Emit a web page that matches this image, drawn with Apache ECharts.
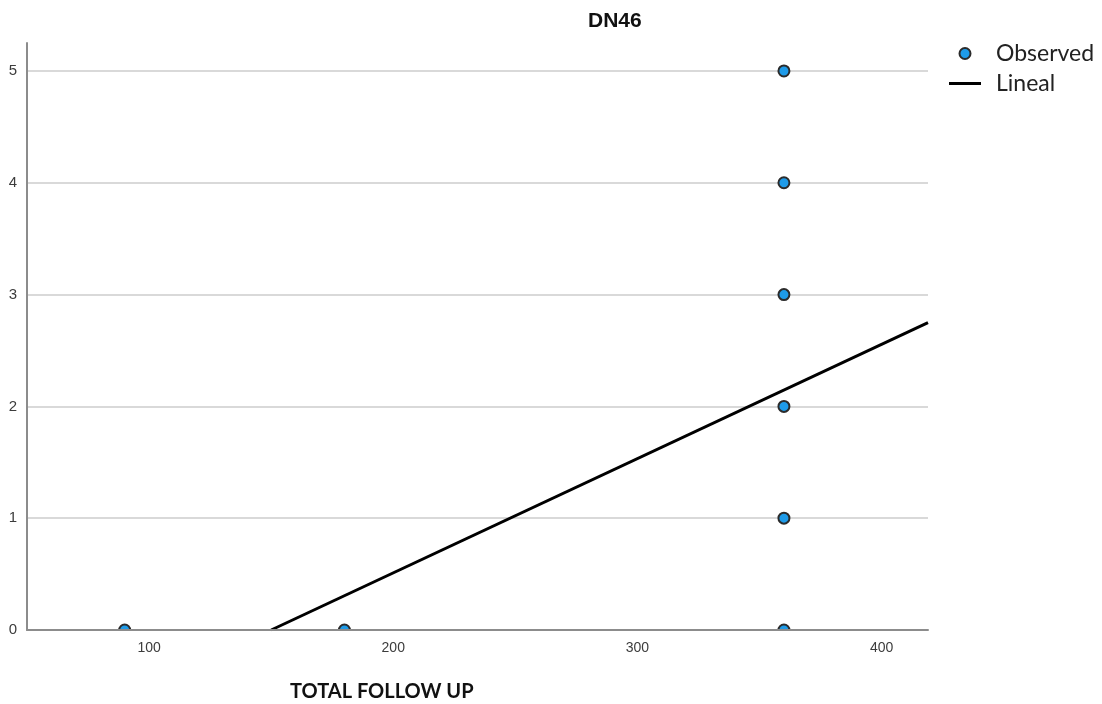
<!DOCTYPE html>
<html>
<head>
<meta charset="utf-8">
<script src="https://cdn.jsdelivr.net/npm/echarts@6/dist/echarts.min.js"></script>
<style>
  html, body { margin: 0; padding: 0; background: #fff; }
  #chart { width: 1102px; height: 704px; }
</style>
</head>
<body>
<div id="chart"></div>
<script>
// observed points: total follow up vs DN46
const followUp = [90, 180, 360, 360, 360, 360, 360, 360];
const dn46 = [0, 0, 0, 1, 2, 3, 4, 5];
// linear fit line, read at its two ends
const fitX = [150, 419];
const fitY = [0, 2.75];
const xTicks = [100, 200, 300, 400];

const observed = followUp.map((x, i) => [x, dn46[i]]);
const lineal = fitX.map((x, i) => [x, fitY[i]]);

const chart = echarts.init(document.getElementById('chart'));

const option = {
    animation: false,
    title: [
        {
            text: 'DN46',
            left: 583,
            top: 6,
            textStyle: { fontFamily: 'Liberation Sans', fontSize: 21, fontWeight: 'bold', color: '#111' }
        },
        {
            text: 'TOTAL FOLLOW UP',
            left: 285,
            top: 677,
            textStyle: { fontFamily: 'Lato', fontSize: 20, fontWeight: 'bold', color: '#111' }
        }
    ],
    legend: {
        orient: 'vertical',
        left: 944,
        top: 37,
        itemWidth: 32,
        itemHeight: 11,
        itemGap: 7,
        textStyle: { fontFamily: 'Lato', fontSize: 23, color: '#222', padding: [0, 0, 0, 10] },
        data: [
            { name: 'Observed' },
            { name: 'Lineal', icon: 'path://M0,0H32V3H0Z' }
        ]
    },
    grid: { left: 27, right: 174, top: 43, bottom: 74 },
    xAxis: {
        type: 'value',
        min: 50,
        max: 419,
        z: 4,
        axisLine: { lineStyle: { color: '#8c8c8c', width: 2 } },
        axisTick: { show: false },
        splitLine: { show: false },
        axisLabel: {
            customValues: xTicks,
            color: '#3c3c3c',
            fontFamily: 'Liberation Sans',
            fontSize: 14,
            margin: 11
        }
    },
    yAxis: {
        type: 'value',
        min: 0,
        max: 5.25,
        interval: 1,
        axisLine: { show: true, lineStyle: { color: '#8c8c8c', width: 2 } },
        axisTick: { show: false },
        splitLine: { showMaxLine: false, lineStyle: { color: '#d9d9d9', width: 2 } },
        axisLabel: {
            showMaxLabel: false,
            color: '#3c3c3c',
            fontFamily: 'Liberation Sans',
            fontSize: 15,
            margin: 10
        }
    },
    series: [
        {
            name: 'Observed',
            type: 'scatter',
            z: 2,
            symbolSize: 11,
            itemStyle: { color: '#1e9be9', borderColor: '#2b2b2b', borderWidth: 2, opacity: 1 },
            data: observed
        },
        {
            name: 'Lineal',
            type: 'line',
            z: 3,
            symbol: 'none',
            lineStyle: { color: '#000', width: 3 },
            itemStyle: { color: '#000' },
            data: lineal
        }
    ]
};
chart.setOption(option);

// hide the lower half of points sitting on the x axis, like the original plot
const p0 = chart.convertToPixel({ gridIndex: 0 }, [50, 0]);
const p1 = chart.convertToPixel({ gridIndex: 0 }, [419, 0]);
chart.setOption({
    graphic: [{
        type: 'rect',
        z: 3,
        silent: true,
        shape: { x: p0[0] + 2, y: p0[1] + 1, width: p1[0] - p0[0], height: 7 },
        style: { fill: '#fff' }
    }]
});
</script>
</body>
</html>
